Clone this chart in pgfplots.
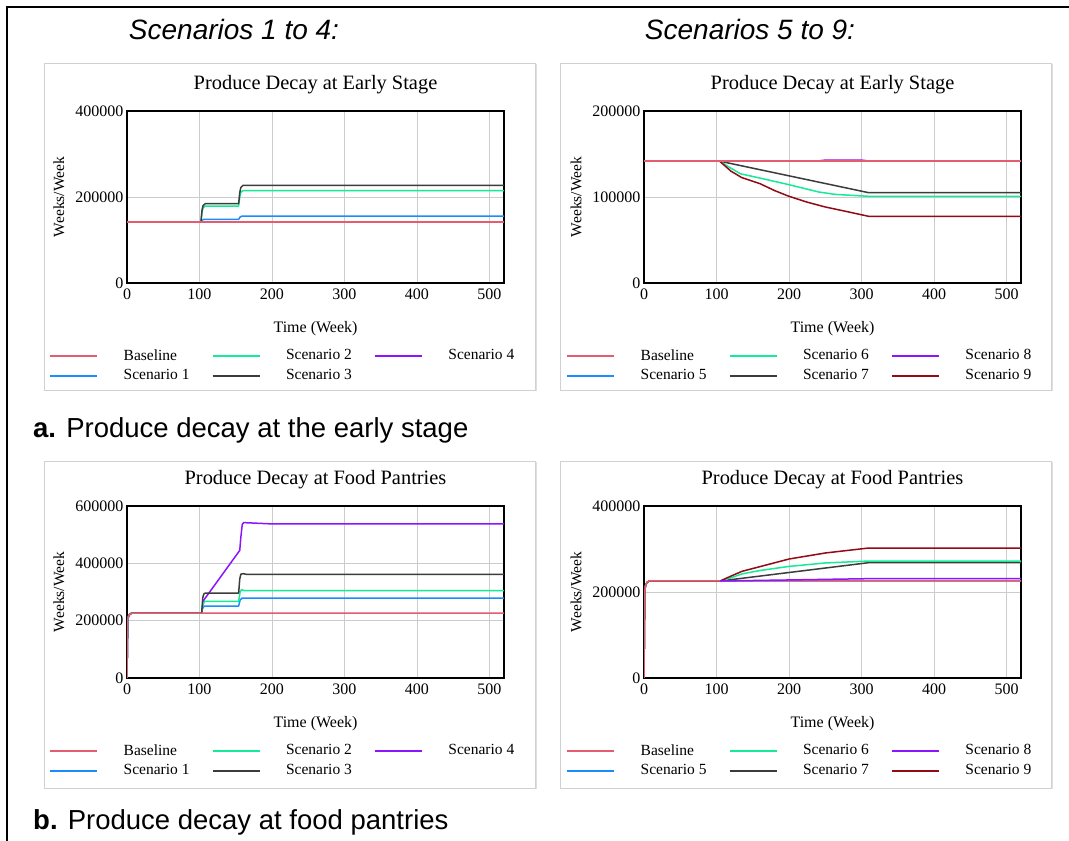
\documentclass[border=0pt]{standalone}
\usepackage{fontspec}
\setmainfont{Liberation Serif}
\newfontfamily\capfont{Liberation Sans}
\usepackage{pgfplots}
\pgfplotsset{compat=1.18}
\usetikzlibrary{shadows}
\definecolor{cBase}{RGB}{228,92,112}
\definecolor{cBlue}{RGB}{25,140,255}
\definecolor{cGreen}{RGB}{20,235,150}
\definecolor{cGray}{RGB}{60,60,60}
\definecolor{cPurple}{RGB}{140,20,255}
\definecolor{cDRed}{RGB}{145,10,20}
\pgfplotsset{
  panel/.style={
    scale only axis, width=377pt, height=172pt,
    anchor=south west,
    xmin=0, xmax=520, ymin=0,
    xtick={0,100,...,500},
    grid=major, major grid style={draw=black!20, line width=0.9pt},
    axis line style={line width=2.2pt},
    major tick length=0pt,
    tick label style={font=\fontsize{16}{17}\selectfont},
    /pgf/number format/assume math mode=true,
    /pgf/number format/fixed, /pgf/number format/1000 sep={},
    scaled y ticks=false,
    xticklabel shift=2pt,
    xlabel={Time (Week)}, ylabel={Weeks/Week},
    every axis x label/.style={at={(axis description cs:0.5,-0.267)}, anchor=center, font=\fontsize{16}{17}\selectfont},
    every axis y label/.style={at={(axis description cs:-0.1804,0.5)}, rotate=90, anchor=center, font=\fontsize{15.5}{16}\selectfont},
    every axis title/.style={at={(axis description cs:0.5,1)}, yshift=26pt, anchor=center, font=\fontsize{20.4}{22}\selectfont},
    every axis plot/.append style={line width=1.5pt, line join=round},
    legend columns=3,
    legend cell align=left,
    legend image code/.code={\draw[#1, line width=2pt] (0pt,0pt) -- (47pt,0pt);},
    legend style={at={(axis description cs:-0.2069,-0.385)}, anchor=north west, draw=none, fill=none,
      inner sep=0pt, font=\fontsize{15.5}{16}\selectfont, row sep=8pt,
      nodes={inner sep=0pt},
      /tikz/every odd column/.append style={column sep=25.5pt},
      /tikz/every even column/.append style={column sep=22pt}},
  }
}
\begin{document}
\begin{tikzpicture}[x=1pt,y=1pt]
\useasboundingbox (0,0) rectangle (1069,841);
\fill[white] (0,0) rectangle (1069,841);
\draw[line width=2pt] (7,-5) -- (7,834) -- (1075,834);
% panels
\foreach \px/\py in {44/451, 560/451, 44/53, 560/53}{
  \path[draw=black!18, fill=white, drop shadow={shadow xshift=1.5pt, shadow yshift=-1.5pt, opacity=0.25}] (\px,\py) rectangle ++(491,327);
}
\node[font=\capfont\itshape\fontsize{28}{30}\selectfont, anchor=base] at (234,801) {Scenarios 1 to 4:};
\node[font=\capfont\itshape\fontsize{28}{30}\selectfont, anchor=base] at (750,801) {Scenarios 5 to 9:};
\node[font=\capfont\fontsize{27.5}{30}\selectfont, anchor=base west, inner sep=0pt] at (33,403) {\textbf{a.} Produce decay at the early stage};
\node[font=\capfont\fontsize{27.5}{30}\selectfont, anchor=base west, inner sep=0pt] at (33,11) {\textbf{b.} Produce decay at food pantries};

% ---------- a-left ----------
\begin{axis}[panel, at={(127pt,558pt)}, ymax=400000, ytick={0,200000,400000},
  title={Produce Decay at Early Stage}]
\addplot[cPurple, forget plot] coordinates {(0,142000) (520,142000)};
\addplot[cBlue, forget plot] coordinates {(0,142000)(102,142000)(103.5,146000)(106,148000)(154,148000)(156,153500)(159,155800)(520,155800)};
\addplot[cGreen, forget plot] coordinates {(0,142000)(102,142000)(103.5,165000)(105,175000)(108,179000)(154,179000)(155.5,200000)(157,211000)(160,214700)(520,214700)};
\addplot[cGray, forget plot] coordinates {(0,142000)(102,142000)(103.5,170000)(105,180000)(108,184500)(154,184500)(155.5,210000)(157,222000)(160,227000)(520,227000)};
\addplot[cBase, forget plot] coordinates {(0,142000) (520,142000)};
\addlegendimage{cBase}\addlegendentry{Baseline}
\addlegendimage{cGreen}\addlegendentry{Scenario 2}
\addlegendimage{cPurple}\addlegendentry{Scenario 4}
\addlegendimage{cBlue}\addlegendentry{Scenario 1}
\addlegendimage{cGray}\addlegendentry{Scenario 3}
\end{axis}

% ---------- a-right ----------
\begin{axis}[panel, at={(644pt,558pt)}, ymax=200000, ytick={0,100000,200000},
  title={Produce Decay at Early Stage}]
\addplot[cPurple, forget plot] coordinates {(0,141900)(240,141900)(250,142900)(300,142900)(310,141900)(520,141900)};
\addplot[cBlue, forget plot] coordinates {(0,141900) (520,141900)};
\addplot[cGray, forget plot] coordinates {(0,141900)(103,141900)(310,105000)(520,105000)};
\addplot[cGreen, forget plot] coordinates {(0,141900)(104,141900)(115,136000)(133,127000)(160,122000)(200,114300)(241,105800)(264,103000)(310,100800)(520,100800)};
\addplot[cDRed, forget plot] coordinates {(0,141900)(104,141900)(120,130000)(135,122500)(160,115500)(180,107500)(200,100800)(225,94000)(250,88400)(280,83000)(310,77500)(520,77500)};
\addplot[cBase, forget plot] coordinates {(0,141900) (520,141900)};
\addlegendimage{cBase}\addlegendentry{Baseline}
\addlegendimage{cGreen}\addlegendentry{Scenario 6}
\addlegendimage{cPurple}\addlegendentry{Scenario 8}
\addlegendimage{cBlue}\addlegendentry{Scenario 5}
\addlegendimage{cGray}\addlegendentry{Scenario 7}
\addlegendimage{cDRed}\addlegendentry{Scenario 9}
\end{axis}

% ---------- b-left ----------
\begin{axis}[panel, at={(127pt,163pt)}, ymax=600000, ytick={0,200000,400000,600000},
  title={Produce Decay at Food Pantries}]
\addplot[cPurple, forget plot] coordinates {(0,0)(1,200000)(2,215000)(4,223000)(7,226500)(103,226500)(104,245000)(106,272000)(155.5,445000)(157,490000)(159,536000)(161,542000)(170,541000)(200,537500)(520,537500)};
\addplot[cBlue, forget plot] coordinates {(0,0)(1,200000)(2,215000)(4,223000)(7,226500)(103,226500)(104.5,245000)(107,251000)(154,251000)(156,272000)(159,279000)(520,279000)};
\addplot[cGreen, forget plot] coordinates {(0,0)(1,200000)(2,215000)(4,223000)(7,226500)(103,226500)(104.5,255000)(107,267000)(154,267000)(156,300000)(158,308000)(162,305000)(520,304500)};
\addplot[cGray, forget plot] coordinates {(0,0)(1,200000)(2,215000)(4,223000)(7,226500)(103,226500)(104.5,280000)(106,293000)(108,296500)(154,296500)(155.5,345000)(157,362000)(160,364000)(165,361600)(520,361600)};
\addplot[cBase, forget plot] coordinates {(0,0)(1,200000)(2,215000)(4,223000)(7,226500)(520,226500)};
\addlegendimage{cBase}\addlegendentry{Baseline}
\addlegendimage{cGreen}\addlegendentry{Scenario 2}
\addlegendimage{cPurple}\addlegendentry{Scenario 4}
\addlegendimage{cBlue}\addlegendentry{Scenario 1}
\addlegendimage{cGray}\addlegendentry{Scenario 3}
\end{axis}

% ---------- b-right ----------
\begin{axis}[panel, at={(644pt,163pt)}, ymax=400000, ytick={0,200000,400000},
  title={Produce Decay at Food Pantries}]
\addplot[cBlue, forget plot] coordinates {(0,0)(1,200000)(2,214000)(4,222000)(7,225600)(520,225600)};
\addplot[cGray, forget plot] coordinates {(0,0)(1,200000)(2,214000)(4,222000)(7,225600)(105,225600)(310,268200)(520,268200)};
\addplot[cGreen, forget plot] coordinates {(0,0)(1,200000)(2,214000)(4,222000)(7,225600)(105,225600)(120,233000)(135,242000)(160,250000)(200,259500)(250,267500)(310,272000)(520,272000)};
\addplot[cDRed, forget plot] coordinates {(0,0)(1,200000)(2,214000)(4,222000)(7,225600)(105,225600)(120,237000)(135,248000)(160,259000)(200,276700)(250,290700)(310,302300)(520,302300)};
\addplot[cBase, forget plot] coordinates {(0,0)(1,200000)(2,214000)(4,222000)(7,225600)(520,225600)};
\addplot[cPurple, forget plot] coordinates {(105,225600)(200,228000)(310,231000)(520,231000)};
\addlegendimage{cBase}\addlegendentry{Baseline}
\addlegendimage{cGreen}\addlegendentry{Scenario 6}
\addlegendimage{cPurple}\addlegendentry{Scenario 8}
\addlegendimage{cBlue}\addlegendentry{Scenario 5}
\addlegendimage{cGray}\addlegendentry{Scenario 7}
\addlegendimage{cDRed}\addlegendentry{Scenario 9}
\end{axis}
\end{tikzpicture}
\end{document}
